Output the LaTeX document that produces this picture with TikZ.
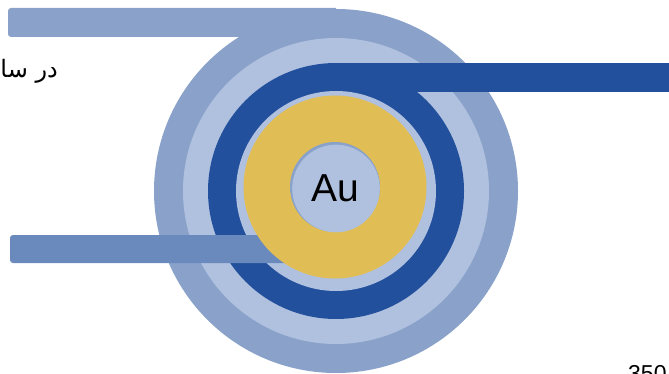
\documentclass[tikz,border=0pt]{standalone}
\usepackage{fontspec}
\setmainfont{Liberation Sans}
\newfontfamily\arabicfont[Script=Arabic]{DejaVu Sans}
\TeXXeTstate=1
\definecolor{midblue}{HTML}{8AA2CA}
\definecolor{paleblue}{HTML}{B0C1DF}
\definecolor{deepblue}{HTML}{23509C}
\definecolor{leadblue}{HTML}{6A89BD}
\definecolor{goldlayer}{HTML}{E0BE55}
\tikzset{
  label text/.style={inner sep=0pt, text=black},
}
\begin{document}
\begin{tikzpicture}[x=1pt,y=-1pt]
  \useasboundingbox (0,0) rectangle (669,374);
  % outer wrap with its lead running off to the left
  \fill[midblue] (336,191) circle (182pt);
  \fill[midblue] (336,8) -- (11,8) arc[start angle=90, end angle=180, radius=3pt]
    -- (8,34) arc[start angle=180, end angle=270, radius=3pt] -- (336,37) -- cycle;
  % second wrap
  \fill[paleblue] (336,191) circle (153pt);
  % dark electrode ring with its lead to the right
  \fill[deepblue] (336,191) circle (128pt);
  \fill[deepblue] (336,63) rectangle (672,92);
  % insulating gap
  \fill[paleblue] (336,191) circle (100pt);
  % lower-left lead
  \fill[leadblue, rounded corners=3pt] (10,235) rectangle (310,263);
  % gold layer and core
  \fill[goldlayer] (335,187) circle (91.5pt);
  \fill[midblue] (335,187) circle (45pt);
  \fill[paleblue] (336,188.5) circle (43.8pt);
  \node[label text, anchor=base] (au) at (335,202) {\fontsize{39}{39}\selectfont Au};
  \node[label text, anchor=base west] (num) at (628,381) {\fontsize{23}{23}\selectfont 350};
  \node[label text, anchor=base east] (fa) at (58,78) {\arabicfont\fontsize{24}{24}\selectfont\beginR در سا\endR};
\end{tikzpicture}
\end{document}
